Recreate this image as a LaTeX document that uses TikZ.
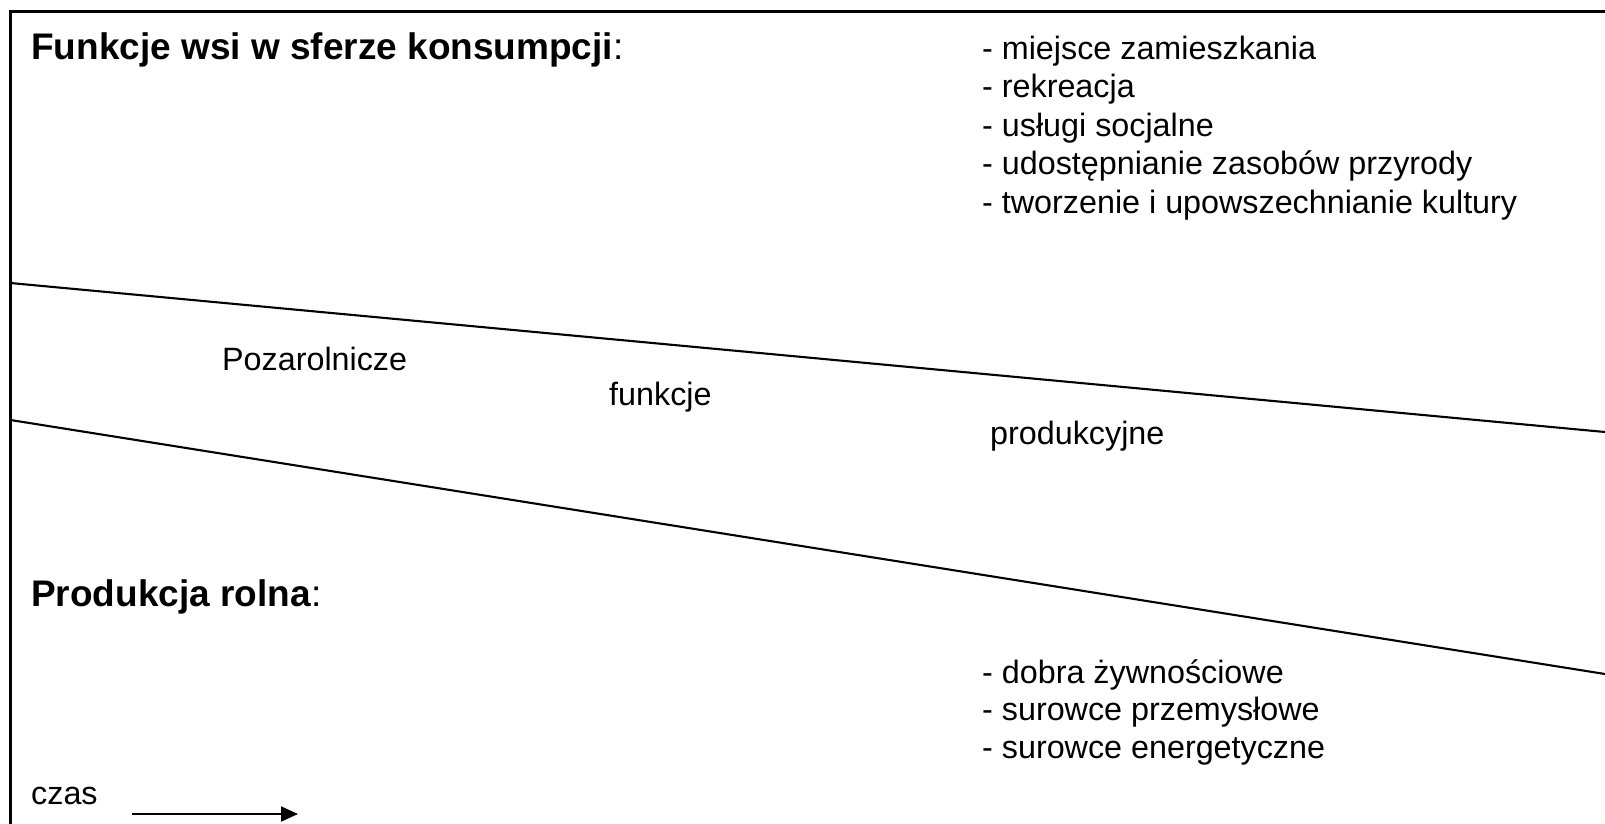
\documentclass[tikz,border=0pt]{standalone}
\usepackage{fontspec}
\setmainfont{Liberation Sans}
\usetikzlibrary{arrows.meta}
\begin{document}
\begin{tikzpicture}[x=1pt,y=-1pt,
  txt/.style={anchor=base west,inner sep=0pt,font=\fontsize{32.3}{38.6}\selectfont},
  head/.style={anchor=base west,inner sep=0pt,font=\fontsize{37}{44}\selectfont},
  rule/.style={line width=2.1pt,black}]
\useasboundingbox (0,0) rectangle (1605,823);
% frame
\coordinate (tr) at (1610,11.5);
\coordinate (tl) at (10.5,11.5);
\coordinate (bl) at (10.5,828);
\draw[rule,line join=miter] (tr) -- (tl) -- (bl);
% slanted lines
\coordinate (l1a) at (10.5,283);
\coordinate (l1b) at (1605,432);
\coordinate (l2a) at (10.5,420);
\coordinate (l2b) at (1605,674);
\draw[rule] (l1a) -- (l1b);
\draw[rule] (l2a) -- (l2b);
% headings
\node[head] (h1) at (31,59) {\textbf{Funkcje wsi w sferze konsumpcji}:};
\node[head] (h2) at (31,606) {\textbf{Produkcja rolna}:};
% consumption list
\node[txt] (c1) at (982,59) {- miejsce zamieszkania};
\node[txt] (c2) at (982,97.5) {- rekreacja};
\node[txt] (c3) at (982,136) {- usługi socjalne};
\node[txt] (c4) at (982,174.5) {- udostępnianie zasobów przyrody};
\node[txt] (c5) at (982,213) {- tworzenie i upowszechnianie kultury};
% middle band
\node[txt] (m1) at (222,370) {Pozarolnicze};
\node[txt] (m2) at (609,405) {funkcje};
\node[txt] (m3) at (990,444) {produkcyjne};
% agricultural list
\node[txt] (p1) at (982,683) {- dobra żywnościowe};
\node[txt] (p2) at (982,720.5) {- surowce przemysłowe};
\node[txt] (p3) at (982,758) {- surowce energetyczne};
% time
\node[txt] (cz) at (31,804) {czas};
\coordinate (a1) at (132,814);
\coordinate (a2) at (298,814);
\draw[line width=2pt,-{Triangle[length=17pt,width=15pt]}] (a1) -- (a2);
\end{tikzpicture}
\end{document}
